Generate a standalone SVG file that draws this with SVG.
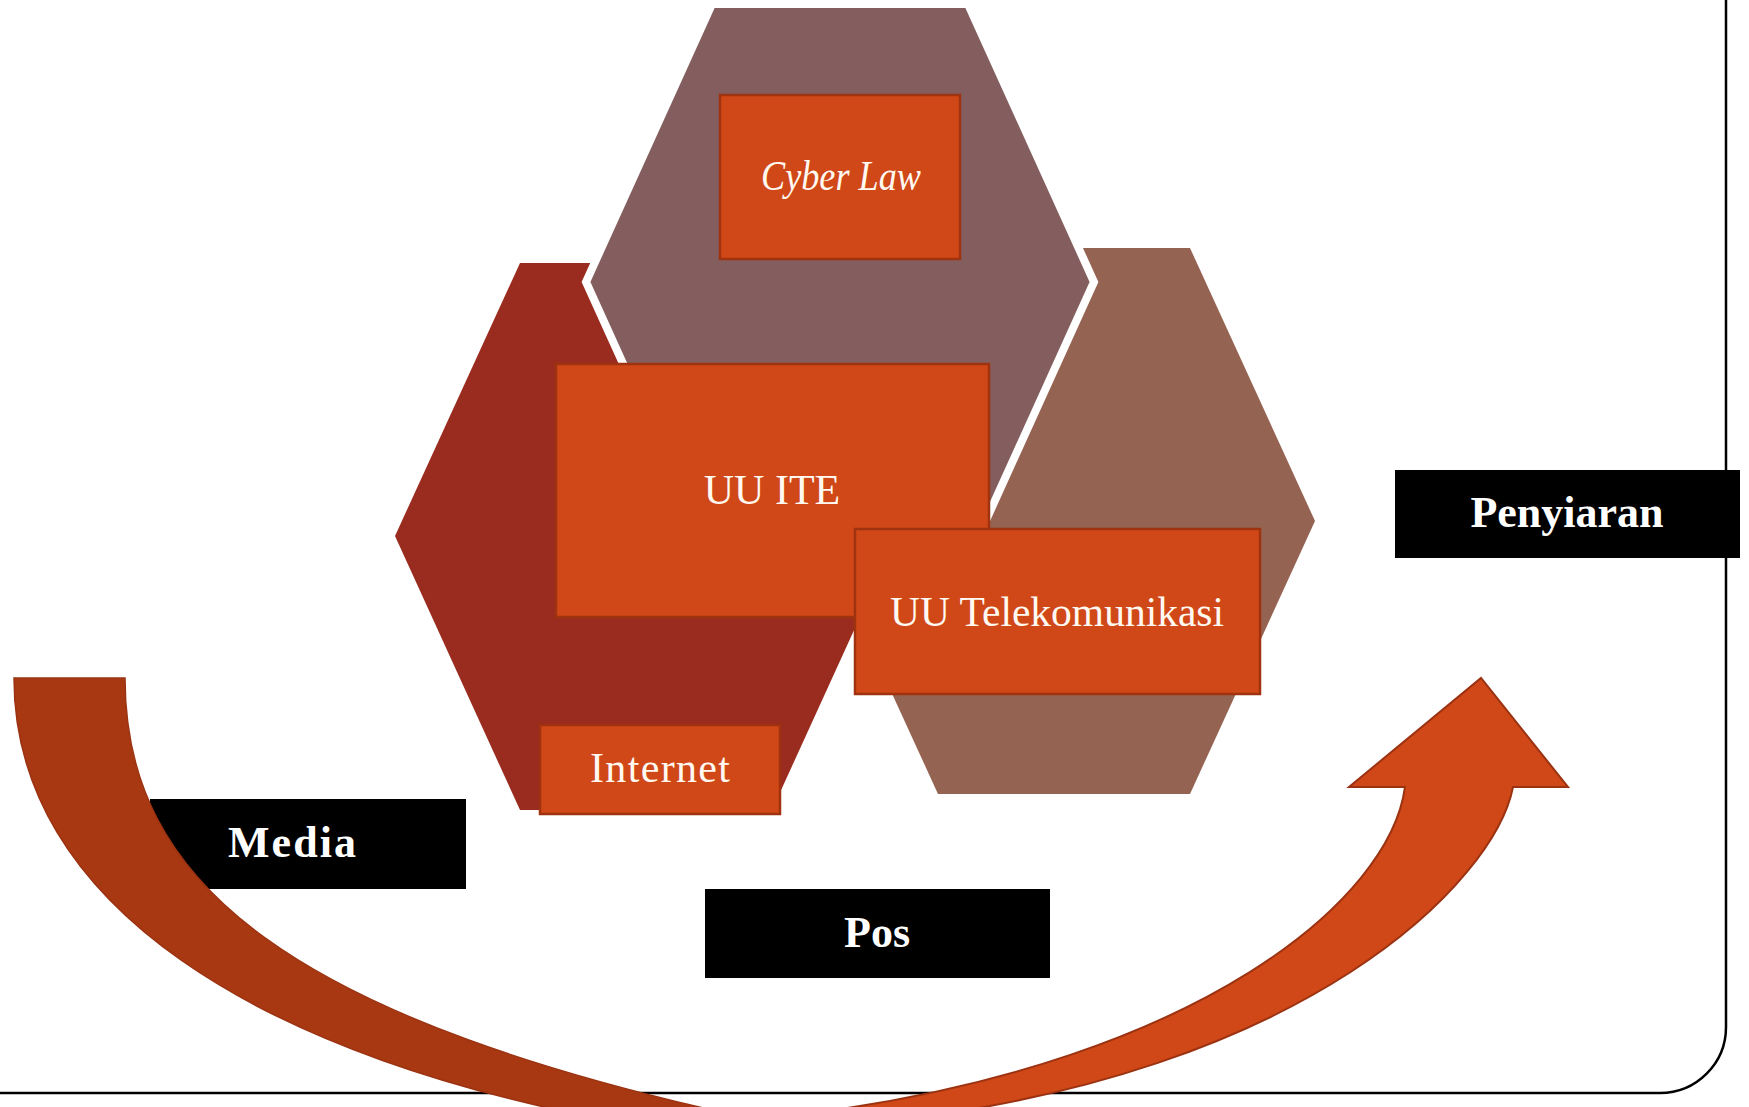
<svg xmlns="http://www.w3.org/2000/svg" width="1749" height="1107" viewBox="0 0 1749 1107">
  <style>
    .hex-cyber { fill: #845E5E; stroke: #FFFFFF; stroke-width: 8; stroke-linejoin: miter; }
    .hex-internet { fill: #9A2C1F; }
    .hex-telco { fill: #956352; }
    .box { fill: #D04817; stroke: #A0330F; stroke-width: 2.5; }
    .box-text { font-family: "Liberation Serif", "Times New Roman", serif; font-size: 42px; fill: #FFF9F2; text-anchor: middle; }
    .tag { fill: #000000; }
    .tag-text { font-family: "Liberation Serif", "Times New Roman", serif; font-size: 44px; font-weight: bold; fill: #FFFFFF; text-anchor: middle; }
    .frame { fill: none; stroke: #000000; stroke-width: 2.5; }
    .arrow-back { fill: #A83812; stroke: #9B3312; stroke-width: 1.5; }
    .arrow-front { fill: #D04817; stroke: #9B3312; stroke-width: 2; stroke-linejoin: miter; }
  </style>

  <!-- page frame with rounded bottom-right corner -->
  <path class="frame" d="M1726,0 V1027 A66,66 0 0 1 1660,1093 H0"/>

  <!-- hexagon backdrop -->
  <g id="hex-internet">
    <polygon class="hex-internet" points="520,263 772,263 897,536 772,810 520,810 395,536"/>
  </g>
  <g id="hex-telekomunikasi">
    <polygon class="hex-telco" points="938,248 1190,248 1315,521 1190,794 938,794 813,521"/>
  </g>
  <g id="hex-cyberlaw">
    <polygon class="hex-cyber" points="712,4 968,4 1094,282 968,560 712,560 586,282"/>
  </g>

  <!-- law boxes -->
  <g id="cyber-law">
    <rect class="box" x="720" y="95" width="240" height="164"/>
    <text class="box-text" x="841" y="190" font-style="italic" textLength="160" lengthAdjust="spacingAndGlyphs">Cyber Law</text>
  </g>
  <g id="uu-ite">
    <rect class="box" x="556" y="364" width="433" height="253"/>
    <text class="box-text" x="772" y="504">UU ITE</text>
  </g>
  <g id="uu-telekomunikasi">
    <rect class="box" x="855" y="529" width="405" height="165"/>
    <text class="box-text" x="1057" y="626" textLength="334" lengthAdjust="spacingAndGlyphs">UU Telekomunikasi</text>
  </g>
  <g id="internet">
    <rect class="box" x="540" y="725" width="240" height="89"/>
    <text class="box-text" x="660" y="782" textLength="140" lengthAdjust="spacing">Internet</text>
  </g>

  <!-- sector labels -->
  <g id="media">
    <rect class="tag" x="150" y="799" width="316" height="90"/>
    <text class="tag-text" x="292" y="857" textLength="128" lengthAdjust="spacing">Media</text>
  </g>
  <g id="pos">
    <rect class="tag" x="705" y="889" width="345" height="89"/>
    <text class="tag-text" x="877" y="947">Pos</text>
  </g>
  <g id="penyiaran">
    <rect class="tag" x="1395" y="470" width="345" height="88"/>
    <text class="tag-text" x="1567" y="527">Penyiaran</text>
  </g>

  <!-- curved up-arrow sweeping under the labels -->
  <g id="connectors">
    <path class="arrow-back" d="M14,678 H125 C125,880 280,1020 780,1125 L780,1150 L650,1150 L650,1128 C250,1060 14,900 14,678 Z"/>
    <path class="arrow-front" d="M1405,787 C1390,900 1200,1060 820,1112 L820,1150 L880,1150 L880,1122 C1310,1075 1495,880 1513,787 H1568 L1481,678 L1349,787 Z"/>
  </g>
</svg>
